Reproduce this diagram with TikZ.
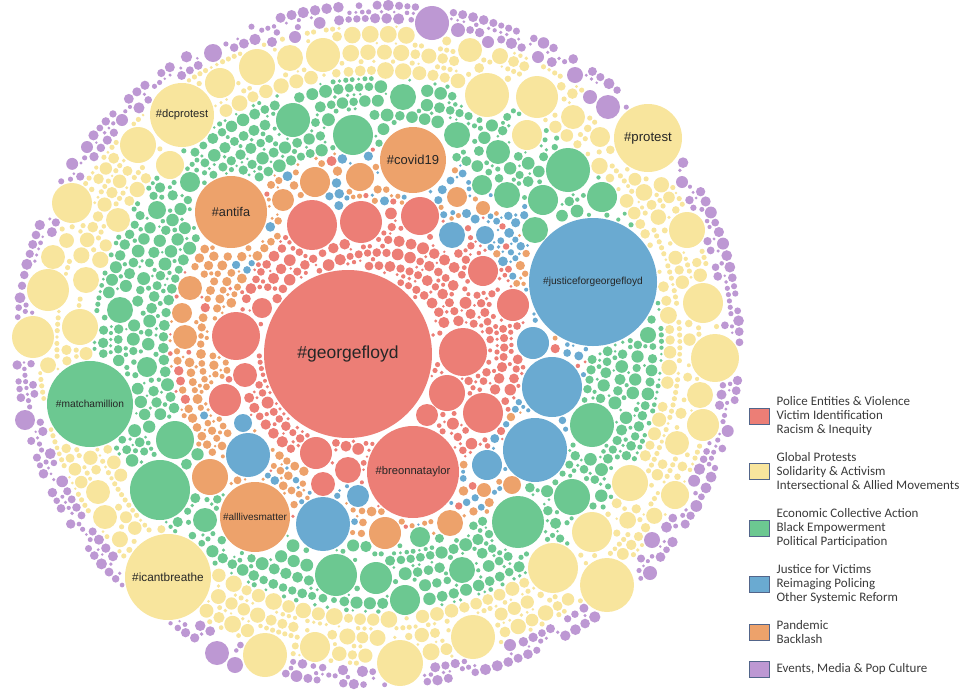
\documentclass[tikz,border=0pt]{standalone}
\usepackage{fontspec}
\setmainfont{Liberation Sans}
\newfontfamily\keyfont{Carlito}
\usetikzlibrary{positioning}

\definecolor{cred}{HTML}{EC7E76}
\definecolor{cyellow}{HTML}{F8E59D}
\definecolor{cgreen}{HTML}{6CC891}
\definecolor{cblue}{HTML}{6AAAD1}
\definecolor{corange}{HTML}{EDA26B}
\definecolor{cpurple}{HTML}{BD98D3}
\definecolor{ckeyline}{HTML}{52658A}
\definecolor{ckeytext}{HTML}{3A3A3A}

\tikzset{
  bubble/.style={circle, inner sep=0pt, text=black!85},
  key/.style={draw=ckeyline, line width=0.8pt, minimum width=20pt, minimum height=16pt, inner sep=0pt},
  keytext/.style={align=left, inner sep=0pt, text=ckeytext, font=\keyfont\fontsize{13}{14}\selectfont},
}

% labelled bubbles: name, x, y, radius, colour, font size, text
\newcommand\tagged{%
  \tb{georgefloyd}{348}{354}{84}{cred}{17.5}{\#georgefloyd}%
  \tb{justice}{593}{282}{64}{cblue}{10.2}{\#justiceforgeorgefloyd}%
  \tb{breonna}{413}{472}{46}{cred}{11.2}{\#breonnataylor}%
  \tb{covid}{413}{160}{33}{corange}{13}{\#covid19}%
  \tb{antifa}{231}{212}{36}{corange}{12.7}{\#antifa}%
  \tb{alllives}{255}{517}{35}{corange}{10}{\#alllivesmatter}%
  \tb{matcha}{90}{404}{43}{cgreen}{10.2}{\#matchamillion}%
  \tb{icant}{168}{577}{43}{cyellow}{11.8}{\#icantbreathe}%
  \tb{dcprotest}{182}{115}{32}{cyellow}{11.2}{\#dcprotest}%
  \tb{protest}{648}{138}{34}{cyellow}{13.2}{\#protest}%
}
% plain bubbles: x, y, radius, colour
\newcommand\plain{%
  % red
  \bb{312}{225}{25}{cred}\bb{361}{222}{21}{cred}\bb{420}{216}{19}{cred}%
  \bb{236}{336}{24}{cred}\bb{225}{400}{16}{cred}\bb{245}{375}{12}{cred}\bb{262}{308}{10}{cred}%
  \bb{463}{352}{24}{cred}\bb{447}{393}{18}{cred}\bb{483}{413}{20}{cred}\bb{513}{305}{16}{cred}%
  \bb{483}{271}{15}{cred}\bb{427}{415}{11}{cred}\bb{316}{453}{16}{cred}\bb{348}{470}{13}{cred}\bb{323}{484}{12}{cred}%
  % blue
  \bb{248}{455}{22}{cblue}\bb{323}{524}{27}{cblue}\bb{552}{387}{30}{cblue}\bb{535}{450}{32}{cblue}%
  \bb{533}{343}{16}{cblue}\bb{487}{465}{15}{cblue}\bb{452}{235}{13}{cblue}\bb{485}{235}{9}{cblue}%
  \bb{243}{423}{9}{cblue}\bb{358}{496}{11}{cblue}%
  % orange
  \bb{315}{182}{15}{corange}\bb{360}{177}{14}{corange}\bb{283}{200}{11}{corange}%
  \bb{190}{288}{12}{corange}\bb{182}{313}{10}{corange}\bb{185}{337}{12}{corange}%
  \bb{210}{477}{18}{corange}\bb{457}{197}{10}{corange}\bb{483}{208}{7}{corange}%
  \bb{512}{485}{9}{corange}\bb{484}{490}{7}{corange}\bb{450}{523}{13}{corange}\bb{385}{533}{16}{corange}%
  % green
  \bb{293}{120}{17}{cgreen}\bb{353}{135}{20}{cgreen}\bb{190}{182}{10}{cgreen}\bb{120}{310}{13}{cgreen}%
  \bb{157}{210}{9}{cgreen}\bb{403}{97}{13}{cgreen}\bb{457}{135}{13}{cgreen}\bb{568}{170}{22}{cgreen}%
  \bb{543}{200}{15}{cgreen}\bb{602}{197}{15}{cgreen}\bb{498}{152}{12}{cgreen}\bb{507}{195}{13}{cgreen}%
  \bb{482}{185}{10}{cgreen}\bb{535}{230}{13}{cgreen}\bb{160}{490}{30}{cgreen}\bb{175}{440}{19}{cgreen}%
  \bb{147}{367}{10}{cgreen}\bb{336}{575}{21}{cgreen}\bb{376}{578}{16}{cgreen}\bb{592}{425}{22}{cgreen}%
  \bb{572}{497}{18}{cgreen}\bb{518}{522}{26}{cgreen}\bb{405}{600}{15}{cgreen}\bb{462}{570}{13}{cgreen}%
  \bb{420}{537}{10}{cgreen}\bb{648}{335}{8}{cgreen}\bb{205}{520}{12}{cgreen}%
  % yellow
  \bb{257}{67}{18}{cyellow}\bb{290}{58}{13}{cyellow}\bb{323}{55}{17}{cyellow}\bb{220}{83}{15}{cyellow}%
  \bb{138}{145}{18}{cyellow}\bb{170}{165}{14}{cyellow}\bb{72}{203}{20}{cyellow}\bb{48}{290}{21}{cyellow}%
  \bb{86}{280}{13}{cyellow}\bb{33}{337}{21}{cyellow}\bb{80}{327}{18}{cyellow}\bb{53}{257}{12}{cyellow}%
  \bb{118}{220}{12}{cyellow}\bb{487}{95}{22}{cyellow}\bb{537}{97}{21}{cyellow}\bb{470}{50}{12}{cyellow}%
  \bb{527}{135}{15}{cyellow}\bb{573}{117}{12}{cyellow}\bb{600}{137}{10}{cyellow}\bb{687}{230}{18}{cyellow}%
  \bb{703}{303}{20}{cyellow}\bb{715}{358}{24}{cyellow}\bb{700}{395}{13}{cyellow}\bb{703}{425}{16}{cyellow}%
  \bb{677}{443}{12}{cyellow}\bb{630}{483}{18}{cyellow}\bb{675}{495}{14}{cyellow}\bb{592}{532}{20}{cyellow}%
  \bb{553}{568}{25}{cyellow}\bb{607}{585}{27}{cyellow}\bb{473}{637}{22}{cyellow}\bb{400}{663}{23}{cyellow}%
  \bb{265}{655}{22}{cyellow}\bb{315}{647}{15}{cyellow}\bb{105}{517}{12}{cyellow}\bb{98}{492}{12}{cyellow}%
  % purple
  \bb{432}{23}{17}{cpurple}\bb{458}{30}{7}{cpurple}\bb{213}{53}{9}{cpurple}\bb{295}{37}{6}{cpurple}%
  \bb{272}{42}{5}{cpurple}\bb{608}{107}{12}{cpurple}\bb{575}{75}{8}{cpurple}\bb{590}{97}{7}{cpurple}%
  \bb{122}{120}{6}{cpurple}\bb{87}{147}{6}{cpurple}\bb{217}{653}{12}{cpurple}\bb{235}{665}{8}{cpurple}%
  \bb{25}{420}{10}{cpurple}\bb{652}{540}{8}{cpurple}\bb{650}{573}{7}{cpurple}\bb{510}{645}{6}{cpurple}%
  \bb{682}{182}{6}{cpurple}\bb{488}{42}{6}{cpurple}\bb{538}{57}{6}{cpurple}%
}

\newcommand\gap{1.2}
\newcommand\drawbb[4]{\fill[#4] (#1,#2) circle (#3pt);}
\newcommand\drawtb[7]{\node[bubble, fill=#5, minimum size={2*#4pt}, font={\fontsize{#6}{#6}\selectfont}] (#1) at (#2,#3) {#7};}
% room left for a small bubble at (\qx,\qy): shrinks \allow
\newcommand\chkcore[3]{%
  \ifnum\numexpr(\px-(#1))*(\px-(#1))+(\py-(#2))*(\py-(#2))\relax<\numexpr(#3+\rcapten+12)*(#3+\rcapten+12)\relax
    \pgfmathsetmacro\dd{veclen((\px-(#1))/10,(\py-(#2))/10)-(#3)/10-\gap}%
    \ifdim\dd pt<\allow pt\global\let\allow\dd\fi
  \fi}
\newcommand\chkbb[4]{\chkcore{10*#1}{10*#2}{10*#3}}
\newcommand\chktb[7]{\chkcore{10*#2}{10*#3}{10*#4}}
\newcommand\fitcheck{%
  \pgfmathtruncatemacro\px{round(10*\qx)}%
  \pgfmathtruncatemacro\py{round(10*\qy)}%
  \pgfmathtruncatemacro\rcapten{round(10*\rcap)}%
  \global\let\allow\rcap
  \let\bb\chkbb \let\tb\chktb \let\rb\chkcore
  \plain\tagged}
\newcommand\pickcol[1]{%
  \ifcase#1\or \def\col{cred}\or
    \pgfmathsetmacro\pb{0.4+0.35*cos(\ang)}%
    \ifdim\uu pt<\pb pt \def\col{cblue}\else\ifdim\uu pt<0.88pt \def\col{corange}\else\def\col{cred}\fi\fi
  \or \def\col{cgreen}\or \def\col{cyellow}\or \def\col{cpurple}\fi}
% one ring of small bubbles: t, rmin, rmax, band
\newcommand\placering[4]{%
  \global\let\curring\empty
  \pgfmathsetmacro\ang{rnd*360}%
  \pgfmathsetmacro\aend{\ang+360-(2*#3+\gap)/(#1*345)*180/pi}%
  \pgfmathsetmacro\rr{#2+rnd*(#3-#2)}%
  \loop
    \pgfmathsetmacro\uu{rnd}%
    \pgfmathsetmacro\qx{378+#1*367*cos(\ang)}%
    \pgfmathsetmacro\qy{345+#1*345*sin(\ang)}%
    \let\rcap\rr
    \fitcheck
    \ifnum#4=5 \ifdim\uu pt<0.2pt \gdef\allow{0}\fi\fi
    \ifdim\allow pt>1.8pt
      \pickcol{#4}%
      \fill[\col] (\qx,\qy) circle (\allow pt);
      \pgfmathtruncatemacro\rten{round(10*\allow)}%
      \xdef\curring{\unexpanded\expandafter{\curring}\noexpand\rb{\px}{\py}{\rten}}%
    \fi
    \pgfmathsetmacro\rn{#2+rnd*(#3-#2)}%
    \pgfmathsetmacro\ds{#1*100*sqrt((3.67*sin(\ang))^2+(3.45*cos(\ang))^2)}%
    \pgfmathsetmacro\ang{\ang+(\rr+\rn+\gap)/\ds*180/pi}%
    \let\rr\rn
  \ifdim\ang pt<\aend pt\repeat}
% tiny bubbles between two rings: t, band
\newcommand\placemid[2]{%
  \pgfmathsetmacro\ang{rnd*360}%
  \pgfmathsetmacro\aend{\ang+360-6.4/(#1*345)*180/pi}%
  \loop
    \pgfmathsetmacro\uu{rnd}%
    \pgfmathsetmacro\qx{378+#1*367*cos(\ang)}%
    \pgfmathsetmacro\qy{345+#1*345*sin(\ang)}%
    \def\rcap{2.6}%
    \fitcheck
    \lastring\curring
    \ifdim\allow pt>1.3pt
      \pickcol{#2}%
      \fill[\col] (\qx,\qy) circle (\allow pt);
    \fi
    \pgfmathsetmacro\ds{#1*100*sqrt((3.67*sin(\ang))^2+(3.45*cos(\ang))^2)}%
    \pgfmathsetmacro\ang{\ang+6.4/\ds*180/pi}%
  \ifdim\ang pt<\aend pt\repeat}

\begin{document}
\begin{tikzpicture}[x=1pt, y=-1pt]
\useasboundingbox (0,0) rectangle (961,689);
\pgfmathsetseed{4711}

% big and medium bubbles
\let\bb\drawbb \let\tb\drawtb
\plain
\tagged

% small bubbles, ring by ring: t / rmin / rmax / band
\global\let\lastring\empty
\foreach \rt/\rlo/\rhi/\band in {0.153/3.5/6/1, 0.191/3.5/6/1, 0.230/3.5/6/1,
    0.268/3.5/6/1, 0.306/3.5/6/1, 0.344/3.5/6/1, 0.383/3.5/6/1,
    0.418/3/5/2, 0.451/3/5/2, 0.483/3/5/2, 0.516/3/5/2, 0.548/3/5/2,
    0.585/4/6.5/3, 0.626/4/6.5/3, 0.667/4/6.5/3, 0.708/4/6.5/3, 0.749/4/6.5/3,
    0.796/4.5/8.5/4, 0.849/4.5/8.5/4, 0.901/4.5/8.5/4,
    0.947/3/6/5, 0.985/3/6/5}{
  \placering{\rt}{\rlo}{\rhi}{\band}
  \ifx\lastring\empty\else
    \pgfmathsetmacro\tm{(\prevt+\rt)/2}
    \placemid{\tm}{\prevband}
  \fi
  \global\let\lastring\curring
  \xdef\prevt{\rt}
  \xdef\prevband{\band}
}

% legend
\node[key, fill=cred] (kred) at (759,416) {};
\node[keytext, right=7pt of kred] (tred) {Police Entities \& Violence\\Victim Identification\\Racism \& Inequity};
\node[key, fill=cyellow] (kyellow) at (759,471.5) {};
\node[keytext, right=7pt of kyellow] (tyellow) {Global Protests\\Solidarity \& Activism\\Intersectional \& Allied Movements};
\node[key, fill=cgreen] (kgreen) at (759,528) {};
\node[keytext, right=7pt of kgreen] (tgreen) {Economic Collective Action\\Black Empowerment\\Political Participation};
\node[key, fill=cblue] (kblue) at (759,584) {};
\node[keytext, right=7pt of kblue] (tblue) {Justice for Victims\\Reimaging Policing\\Other Systemic Reform};
\node[key, fill=corange] (korange) at (759,632) {};
\node[keytext, right=7pt of korange] (torange) {Pandemic\\Backlash};
\node[key, fill=cpurple] (kpurple) at (759,669) {};
\node[keytext, right=7pt of kpurple] (tpurple) {Events, Media \& Pop Culture};
\end{tikzpicture}
\end{document}
